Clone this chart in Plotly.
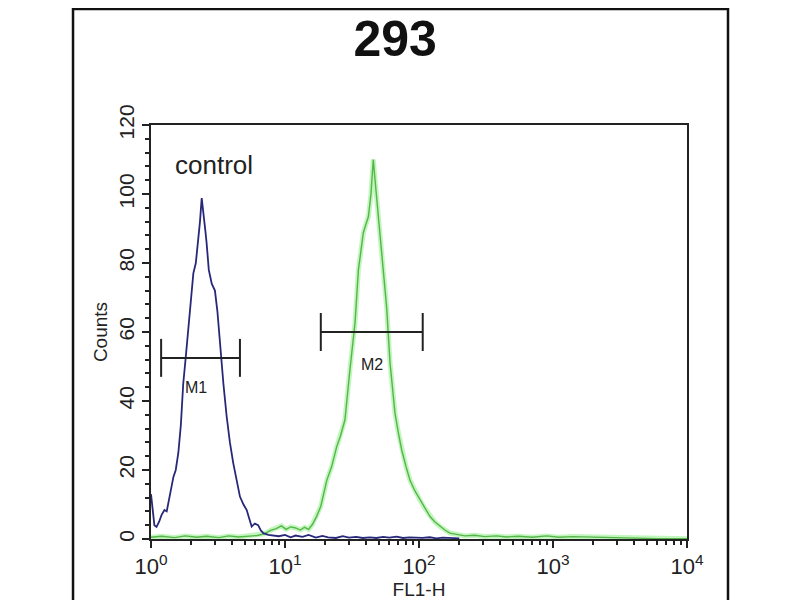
import plotly.graph_objects as go

# control histogram (blue)
ctrl_x = [1.0, 1.03, 1.06, 1.1, 1.15, 1.2, 1.26, 1.31, 1.37, 1.42, 1.47, 1.53, 1.6, 1.67,
          1.74, 1.82, 1.9, 1.98, 2.07, 2.16, 2.25, 2.32, 2.39, 2.44, 2.49, 2.55, 2.6, 2.7,
          2.84, 2.92, 3.0, 3.13, 3.27, 3.47, 3.67, 3.88, 4.11, 4.35, 4.61, 4.9, 5.18, 5.4,
          5.64, 5.95, 6.3, 6.6, 6.9, 7.5, 8.2, 9.0, 10, 11, 12, 13.5, 15, 17, 19, 21, 24,
          27, 30, 34, 38, 43, 48, 54, 60, 68, 76, 85, 95, 106, 120, 135, 150, 170, 200]
ctrl_y = [13, 8, 4, 3.5, 5, 7, 8.4, 8, 12, 15, 18, 20, 25, 33,
          45, 53, 61.5, 70, 77, 80, 86.7, 92, 98.8, 95, 92.5, 89, 85.8, 78,
          74, 73, 72, 66, 56.8, 45, 35.5, 28, 22, 17, 12.3, 10, 8.4, 6,
          3.6, 4.5, 4, 2.5, 1.7, 1.2, 1.0, 0.8, 1.2, 0.5, 1.0, 0.6, 1.2, 0.4, 0.9, 0.5, 0.3,
          0.8, 0.4, 0.6, 0.3, 0.5, 0.3, 0.6, 0.4, 0.7, 0.3, 0.5, 0.4, 0.3, 0.5, 0.2, 0.4, 0.3, 0.2]

# sample histogram (green)
smp_x = [1.0, 1.2, 1.5, 1.8, 2.2, 2.6, 3.2, 3.8, 4.5, 5.3, 6.2, 7.0, 7.8, 8.6, 9.4,
         10.2, 11, 12, 13, 14, 15, 16, 17.2, 18.5, 20.5, 22.3, 24.3, 26, 28, 30.5,
         33.3, 35.3, 37, 38.4, 40, 41.9, 43.8, 45.6, 47, 48.3, 50.5, 52.7, 55, 57.4,
         60.8, 63.5, 66.2, 70, 74.3, 80, 85.7, 93, 101.7, 110, 120.8, 131, 143.5, 156,
         170, 190, 220, 260, 310, 380, 450, 550, 700, 900, 1100, 1400, 1800, 2300,
         3000, 4000, 6000, 10000]
smp_y = [0.5, 0.8, 0.4, 0.9, 0.5, 0.8, 0.4, 0.9, 0.6, 0.8, 1.0, 1.5, 2.5, 3.0, 3.8,
         2.8, 3.5, 3.2, 2.6, 3.4, 2.8, 4.2, 6.5, 9.5, 17, 21, 26.7, 30, 34.5, 49,
         62.6, 78, 84, 88.7, 91, 93.4, 100, 110, 104, 99, 90, 83, 74, 67,
         51, 44, 36.5, 31, 25.8, 21, 17, 14, 11.3, 9, 6.5, 5, 3.6, 2.6,
         1.7, 1.4, 0.9, 1.1, 0.7, 0.9, 0.6, 0.8, 0.5, 0.9, 0.5, 0.7, 0.6, 0.4,
         0.3, 0.2, 0.1, 0.1]

# gate markers
m1_lo, m1_hi, m1_level = 1.19, 4.61, 52.5
m2_lo, m2_hi, m2_level = 18.5, 106.6, 60
cap = 5.5

x_ticks = [1, 10, 100, 1000, 10000]
x_labels = ["10<sup>0</sup>", "10<sup>1</sup>", "10<sup>2</sup>", "10<sup>3</sup>", "10<sup>4</sup>"]
y_ticks = [0, 20, 40, 60, 80, 100, 120]


def gate(lo, hi, level):
    xs = [lo, hi, None, lo, lo, None, hi, hi]
    ys = [level, level, None, level - cap, level + cap, None, level - cap, level + cap]
    return xs, ys


fig = go.Figure()

fig.add_trace(go.Scatter(x=smp_x, y=smp_y, mode="lines",
                         line=dict(color="rgba(120,235,110,0.45)", width=5)))
fig.add_trace(go.Scatter(x=smp_x, y=smp_y, mode="lines",
                         line=dict(color="#55b549", width=1.4)))
fig.add_trace(go.Scatter(x=ctrl_x, y=ctrl_y, mode="lines",
                         line=dict(color="#27287a", width=1.8)))

for lo, hi, level in [(m1_lo, m1_hi, m1_level), (m2_lo, m2_hi, m2_level)]:
    gx, gy = gate(lo, hi, level)
    fig.add_trace(go.Scatter(x=gx, y=gy, mode="lines",
                             line=dict(color="#222222", width=2)))

fig.add_annotation(x=0.336, y=44, xref="x", yref="y", text="M1", showarrow=False,
                   font=dict(size=16, color="#222222"))
fig.add_annotation(x=1.647, y=50.5, xref="x", yref="y", text="M2", showarrow=False,
                   font=dict(size=16, color="#222222"))
fig.add_annotation(x=0.47, y=108.5, xref="x", yref="y", text="control", showarrow=False,
                   font=dict(size=26, color="#222222"))

# outer frame
fig.add_shape(type="rect", xref="paper", yref="paper",
              x0=-0.1455, x1=1.0765, y0=-0.2, y1=1.28,
              line=dict(color="#111111", width=2.5))

fig.update_layout(
    width=800, height=600,
    margin=dict(l=143, r=121, t=117, b=69),
    paper_bgcolor="white", plot_bgcolor="white",
    showlegend=False,
    font=dict(family="Liberation Sans, Arial, sans-serif", color="#222222"),
    title=dict(text="<b>293</b>", x=0.484, xref="container", y=0.95, yref="container",
               xanchor="center", yanchor="middle",
               font=dict(size=50, color="#111111")),
    xaxis=dict(type="log", range=[0, 4], tickvals=x_ticks, ticktext=x_labels,
               ticks="outside", ticklen=7, tickwidth=1.5, tickcolor="#222222",
               minor=dict(ticks="outside", ticklen=4, tickcolor="#222222",
                          tickvals=[m * 10 ** e for e in range(4) for m in range(2, 10)]),
               showline=True, linecolor="#222222", linewidth=2, mirror=True,
               showgrid=False, zeroline=False,
               tickfont=dict(size=22), title=dict(text="FL1-H", font=dict(size=19), standoff=0)),
    yaxis=dict(range=[0, 120], tickvals=y_ticks, tickangle=-90,
               ticks="outside", ticklen=7, tickwidth=1.5, tickcolor="#222222",
               minor=dict(ticks="outside", ticklen=4, tickcolor="#222222", dtick=4),
               showline=True, linecolor="#222222", linewidth=2, mirror=True,
               showgrid=False, zeroline=False,
               tickfont=dict(size=21), title=dict(text="Counts", font=dict(size=19), standoff=2)),
)

fig.write_html("out.html")
